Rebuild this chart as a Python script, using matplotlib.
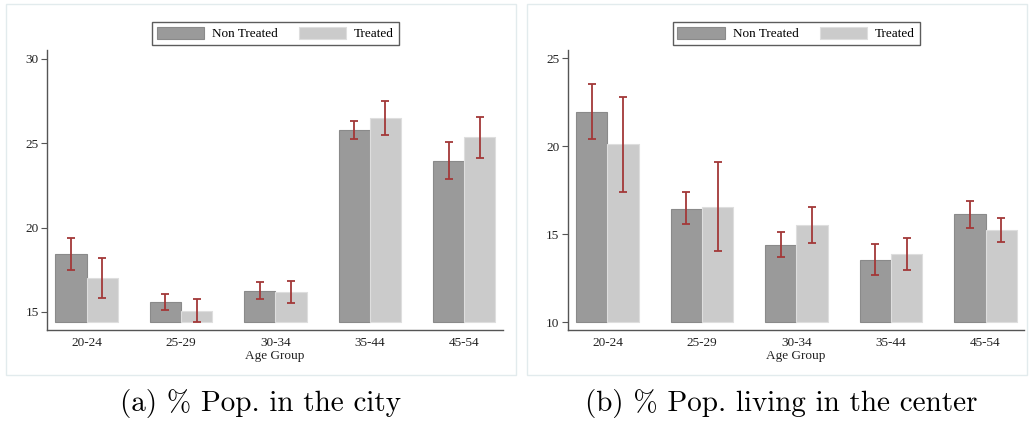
import matplotlib
matplotlib.use("Agg")
import matplotlib.pyplot as plt
from matplotlib.patches import Rectangle
import numpy as np

plt.rcParams["font.family"] = "Liberation Serif"

groups = ["20-24", "25-29", "30-34", "35-44", "45-54"]

# (a) share of population in the city
city_nt = [18.44, 15.59, 16.24, 25.81, 23.97]
city_nt_lo = [17.49, 15.12, 15.79, 25.27, 22.88]
city_nt_hi = [19.40, 16.08, 16.76, 26.34, 25.08]
city_t = [17.00, 15.06, 16.17, 26.50, 25.35]
city_t_lo = [15.85, 14.39, 15.53, 25.51, 24.11]
city_t_hi = [18.20, 15.75, 16.82, 27.49, 26.58]

# (b) share of population living in the center
cent_nt = [21.95, 16.45, 14.37, 13.54, 16.14]
cent_nt_lo = [20.41, 15.60, 13.69, 12.65, 15.37]
cent_nt_hi = [23.54, 17.37, 15.11, 14.43, 16.89]
cent_t = [20.11, 16.57, 15.51, 13.86, 15.23]
cent_t_lo = [17.42, 14.05, 14.50, 12.97, 14.58]
cent_t_hi = [22.82, 19.13, 16.55, 14.79, 15.89]

W, H = 1030, 426
fig = plt.figure(figsize=(W / 100, H / 100), dpi=100)

def px(x0, y0, x1, y1):
    return [x0 / W, 1 - y1 / H, (x1 - x0) / W, (y1 - y0) / H]

NT_COL = "#9a9a9a"
T_COL = "#cbcbcb"
ERR_COL = "#a33838"
bw = 0.33

def panel(rect, nt, nt_lo, nt_hi, t, t_lo, t_hi, base, ylim, yticks, leg_center):
    ax = fig.add_axes(px(*rect))
    x = np.arange(len(groups))
    nt = np.array(nt); t = np.array(t)
    b1 = ax.bar(x - bw / 2, nt - base, bw, bottom=base, color=NT_COL,
                edgecolor="#8a8a8a", linewidth=0.8, label="Non Treated")
    b2 = ax.bar(x + bw / 2, t - base, bw, bottom=base, color=T_COL,
                edgecolor="#dedede", linewidth=0.8, label="Treated")
    for xs, lo, hi in [(x - bw / 2, nt_lo, nt_hi), (x + bw / 2, t_lo, t_hi)]:
        lo = np.array(lo); hi = np.array(hi)
        mid = (lo + hi) / 2
        ax.errorbar(xs, mid, yerr=(hi - lo) / 2, fmt="none", ecolor=ERR_COL,
                    elinewidth=1.3, capsize=2.6, capthick=1.3)
    ax.set_xlim(-0.42, 4.41)
    ax.set_ylim(*ylim)
    ax.set_yticks(yticks)
    ax.set_xticks(x)
    ax.set_xticklabels(groups)
    ax.tick_params(axis="x", length=0, pad=5, labelsize=9.5, colors="#222222")
    ax.tick_params(axis="y", length=4, width=0.8, pad=2, labelsize=9.5,
                   colors="#222222", color="#555555")
    ax.set_xlabel("Age Group", fontsize=9.5, labelpad=1, color="#222222")
    for s in ["top", "right"]:
        ax.spines[s].set_visible(False)
    for s in ["left", "bottom"]:
        ax.spines[s].set_color("#555555")
        ax.spines[s].set_linewidth(1.0)
    leg = fig.legend(handles=[b1, b2], labels=["Non Treated", "Treated"],
                     loc="center", bbox_to_anchor=(leg_center[0] / W, 1 - leg_center[1] / H),
                     ncol=2, fontsize=9.5, frameon=True, fancybox=False,
                     handlelength=3.6, handleheight=1.0, handletextpad=0.6,
                     columnspacing=1.6, borderpad=0.35, borderaxespad=0)
    leg.get_frame().set_edgecolor("#333333")
    leg.get_frame().set_linewidth(1.0)
    return ax

panel((47, 50, 503, 330), city_nt, city_nt_lo, city_nt_hi,
      city_t, city_t_lo, city_t_hi, 14.4, (13.93, 30.53), [15, 20, 25, 30], (275.4, 33.7))
panel((567.7, 50, 1024.3, 330), cent_nt, cent_nt_lo, cent_nt_hi,
      cent_t, cent_t_lo, cent_t_hi, 10.0, (9.55, 25.47), [10, 15, 20, 25], (796.2, 33.7))

# light frames around each subfigure
for x0, x1 in [(6, 516), (527, 1027)]:
    fig.patches.append(Rectangle((x0 / W, 1 - 375 / H), (x1 - x0) / W, 371 / H,
                                 transform=fig.transFigure, fill=False,
                                 edgecolor="#e2ebed", linewidth=1.0))

fig.text(261 / W, 1 - 403 / H, "(a) % Pop. in the city",
         ha="center", va="center", fontsize=21, family="cmr10")
fig.text(781 / W, 1 - 403 / H, "(b) % Pop. living in the center",
         ha="center", va="center", fontsize=21, family="cmr10")

fig.savefig("out.png", dpi=100)
